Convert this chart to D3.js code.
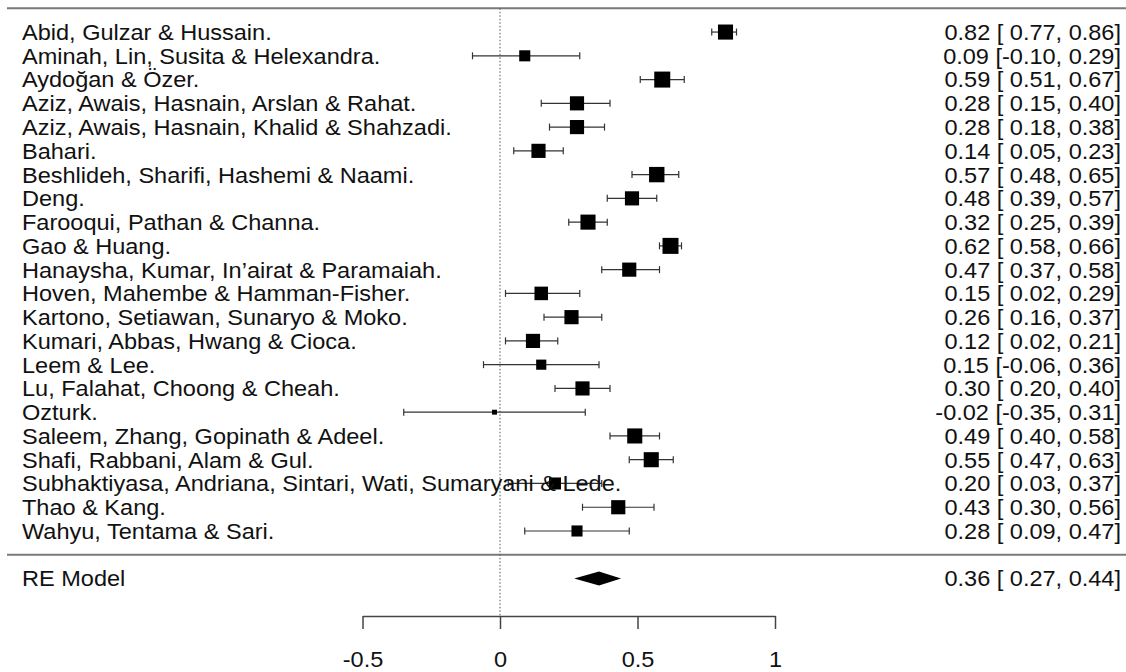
<!DOCTYPE html>
<html>
<head>
<meta charset="utf-8">
<script src="https://cdn.jsdelivr.net/npm/d3@7"></script>
<style>
  html, body { margin: 0; padding: 0; background: #fff; }
  text { font-family: "Liberation Sans", Arial, sans-serif; fill: #111; }
</style>
</head>
<body>
<div id="forest"></div>
<script>
// forest plot data, top row first
var studies = [
    "Abid, Gulzar & Hussain.",
    "Aminah, Lin, Susita & Helexandra.",
    "Aydoğan & Özer.",
    "Aziz, Awais, Hasnain, Arslan & Rahat.",
    "Aziz, Awais, Hasnain, Khalid & Shahzadi.",
    "Bahari.",
    "Beshlideh, Sharifi, Hashemi & Naami.",
    "Deng.",
    "Farooqui, Pathan & Channa.",
    "Gao & Huang.",
    "Hanaysha, Kumar, In’airat & Paramaiah.",
    "Hoven, Mahembe & Hamman-Fisher.",
    "Kartono, Setiawan, Sunaryo & Moko.",
    "Kumari, Abbas, Hwang & Cioca.",
    "Leem & Lee.",
    "Lu, Falahat, Choong & Cheah.",
    "Ozturk.",
    "Saleem, Zhang, Gopinath & Adeel.",
    "Shafi, Rabbani, Alam & Gul.",
    "Subhaktiyasa, Andriana, Sintari, Wati, Sumaryani & Lede.",
    "Thao & Kang.",
    "Wahyu, Tentama & Sari."
];
var estimates = [0.82, 0.09, 0.59, 0.28, 0.28, 0.14, 0.57, 0.48, 0.32, 0.62, 0.47,
                 0.15, 0.26, 0.12, 0.15, 0.30, -0.02, 0.49, 0.55, 0.20, 0.43, 0.28];
var lower = [0.77, -0.10, 0.51, 0.15, 0.18, 0.05, 0.48, 0.39, 0.25, 0.58, 0.37,
             0.02, 0.16, 0.02, -0.06, 0.20, -0.35, 0.40, 0.47, 0.03, 0.30, 0.09];
var upper = [0.86, 0.29, 0.67, 0.40, 0.38, 0.23, 0.65, 0.57, 0.39, 0.66, 0.58,
             0.29, 0.37, 0.21, 0.36, 0.40, 0.31, 0.58, 0.63, 0.37, 0.56, 0.47];
// study weights (%)
var weights = [4.9, 3.6, 5.2, 4.6, 4.6, 4.6, 5.0, 4.6, 4.9, 5.2, 4.6,
               4.4, 4.6, 4.6, 3.3, 4.6, 1.6, 4.9, 4.9, 3.9, 4.6, 3.6];
var reModel = { label: "RE Model", est: 0.36, lo: 0.27, hi: 0.44 };
var tickValues = [-0.5, 0, 0.5, 1];

var width = 1126,
    height = 672;

var svg = d3.select("#forest")
    .append("svg")
    .attr("width", width)
    .attr("height", height);

var k = studies.length;

var x = d3.scaleLinear().domain([-0.5, 1]).range([362.5, 775]);
// rows: k..1 studies, 0 separator, -1 summary
var y = d3.scaleLinear().domain([k + 1, -1]).range([8.3, 578.5]);
var size = d3.scaleLinear().domain([0, 5.2]).range([0, 16]);

var axisY = 616;
var fontSize = 22;
var stretch = 1.07;

// plain hyphen for negatives, like the R output
var locale = d3.formatLocale({ decimal: ".", thousands: ",", grouping: [3], currency: ["", ""], minus: "-" });
var fmt = locale.format(".2f");
var pad = function (v) {
    // R pads non-negative bounds so brackets line up
    return v < 0 ? fmt(v) : " " + fmt(v);
};
var ciText = function (e, l, h) {
    return fmt(e) + " [" + pad(l) + ", " + fmt(h) + "]";
};

var rows = studies.map(function (s, i) {
    return { label: s, est: estimates[i], lo: lower[i], hi: upper[i], w: weights[i], row: k - i };
});

// horizontal rules
svg.append("line")
    .attr("x1", 7).attr("x2", width)
    .attr("y1", y(k + 1)).attr("y2", y(k + 1))
    .attr("stroke", "#7a7a7a").attr("stroke-width", 2);
svg.append("line")
    .attr("x1", 7).attr("x2", width)
    .attr("y1", y(0)).attr("y2", y(0))
    .attr("stroke", "#7a7a7a").attr("stroke-width", 2);

// reference line at 0
svg.append("line")
    .attr("x1", x(0)).attr("x2", x(0))
    .attr("y1", y(k + 1)).attr("y2", axisY)
    .attr("stroke", "#555")
    .attr("stroke-width", 1)
    .attr("stroke-dasharray", "1.5,2");

// confidence intervals
var g = svg.append("g").attr("class", "studies");

var study = g.selectAll("g.study")
    .data(rows)
    .enter()
    .append("g")
    .attr("class", "study");

study.append("line")
    .attr("x1", d => x(d.lo)).attr("x2", d => x(d.hi))
    .attr("y1", d => y(d.row)).attr("y2", d => y(d.row))
    .attr("stroke", "#333").attr("stroke-width", 1.2);

study.append("line")
    .attr("x1", d => x(d.lo)).attr("x2", d => x(d.lo))
    .attr("y1", d => y(d.row) - 3.5).attr("y2", d => y(d.row) + 3.5)
    .attr("stroke", "#333").attr("stroke-width", 1.2);

study.append("line")
    .attr("x1", d => x(d.hi)).attr("x2", d => x(d.hi))
    .attr("y1", d => y(d.row) - 3.5).attr("y2", d => y(d.row) + 3.5)
    .attr("stroke", "#333").attr("stroke-width", 1.2);

study.append("rect")
    .attr("x", d => x(d.est) - size(d.w) / 2)
    .attr("y", d => y(d.row) - size(d.w) / 2)
    .attr("width", d => size(d.w))
    .attr("height", d => size(d.w))
    .attr("fill", "#000");

// labels
var labels = svg.append("g").attr("class", "labels");

function addText(parent, tx, ty, str, anchor) {
    parent.append("text")
        .attr("transform", "translate(" + tx + "," + ty + ") scale(" + stretch + ",1)")
        .attr("dy", "0.36em")
        .attr("text-anchor", anchor)
        .style("font-size", fontSize + "px")
        .style("white-space", "pre")
        .attr("xml:space", "preserve")
        .text(str);
}

rows.forEach(function (d) {
    addText(labels, 22, y(d.row), d.label, "start");
    addText(labels, 1121, y(d.row), ciText(d.est, d.lo, d.hi), "end");
});

// summary row
addText(labels, 22, y(-1), reModel.label, "start");
addText(labels, 1121, y(-1), ciText(reModel.est, reModel.lo, reModel.hi), "end");

var dy = y(-1);
svg.append("polygon")
    .attr("points", [
        [x(reModel.lo), dy],
        [x(reModel.est), dy - 7],
        [x(reModel.hi), dy],
        [x(reModel.est), dy + 7]
    ].map(p => p.join(",")).join(" "))
    .attr("fill", "#000");

// x axis
var axis = d3.axisBottom(x)
    .tickValues(tickValues)
    .tickSize(13)
    .tickSizeOuter(0)
    .tickPadding(22)
    .tickFormat(d => String(d));

var gAxis = svg.append("g")
    .attr("transform", "translate(0," + axisY + ")")
    .call(axis);

gAxis.select(".domain").attr("stroke", "#444").attr("stroke-width", 1.5);
gAxis.selectAll(".tick line").attr("stroke", "#444").attr("stroke-width", 1.5);
gAxis.selectAll(".tick text")
    .attr("fill", "#111")
    .style("font-family", "\"Liberation Sans\", Arial, sans-serif")
    .style("font-size", fontSize + "px")
    .attr("transform", "scale(" + stretch + ",1)");
</script>
</body>
</html>
